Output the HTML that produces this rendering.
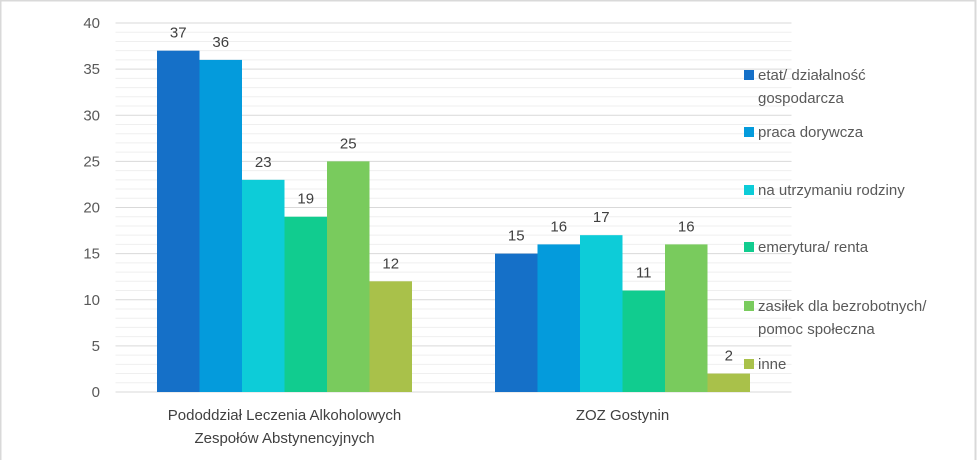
<!DOCTYPE html>
<html><head><meta charset="utf-8"><style>
body{margin:0;background:#fff}
svg{display:block;font-family:"Liberation Sans",sans-serif}
</style></head><body>
<svg width="979" height="460">
<rect x="0.5" y="0.5" width="975" height="470" fill="#fff" stroke="#d9d9d9" stroke-width="2"/>
<g id="grid"></g><g id="yaxis"></g><g id="bars"></g><g id="labels"></g><g id="xaxis"></g><g id="legend"></g>
</svg>
<script>
const categories=[["Pododdział Leczenia Alkoholowych","Zespołów Abstynencyjnych"],["ZOZ Gostynin"]];
const seriesNames=[["etat/ działalność","gospodarcza"],["praca dorywcza"],["na utrzymaniu rodziny"],["emerytura/ renta"],["zasiłek dla bezrobotnych/","pomoc społeczna"],["inne"]];
const s1=[37,15];
const s2=[36,16];
const s3=[23,17];
const s4=[19,11];
const s5=[25,16];
const s6=[12,2];
const yTicks=[0,5,10,15,20,25,30,35,40];
const series=[s1,s2,s3,s4,s5,s6];
const colors=["#1570c8","#049bdc","#0dccd8","#11cc8f","#79cb5d","#a9c14a"];
const NS="http://www.w3.org/2000/svg";
const x0=115.5,x1=791.5,yb=392,yt=23,ymax=40;
const y=v=>yb-(v/ymax)*(yb-yt);
const cw=(x1-x0)/categories.length, bw=42.5;
function mk(t,a,p){const e=document.createElementNS(NS,t);for(const k in a)e.setAttribute(k,a[k]);p.appendChild(e);return e;}
const grid=document.getElementById('grid');
for(let v=1;v<=ymax;v++){
 const l=mk('line',{x1:x0,x2:x1,y1:y(v),y2:y(v),stroke:v%5?'#efefef':'#d9d9d9','stroke-width':1},grid);
 
 
}
const ya=document.getElementById('yaxis');
yTicks.forEach(v=>{const t=mk('text',{x:100,y:y(v)+5,'text-anchor':'end','font-size':15,fill:'#595959'},ya);t.textContent=v;
 
 });
const ax=mk('line',{x1:x0,x2:x1,y1:yb,y2:yb,stroke:'#d9d9d9'},ya);


const bars=document.getElementById('bars'),lab=document.getElementById('labels'),xa=document.getElementById('xaxis');
categories.forEach((c,ci)=>{
 const cx=x0+cw*(ci+0.5), start=cx-bw*series.length/2;
 series.forEach((s,si)=>{
  const v=s[ci],bx=start+si*bw;
  const r=mk('rect',{x:bx,y:y(v),width:bw,height:yb-y(v),fill:colors[si]},bars);
  
  
  const t=mk('text',{x:bx+bw/2,y:y(v)-13,'text-anchor':'middle','font-size':15,fill:'#404040'},lab);t.textContent=v;
  
  
 });
 c.forEach((line,li)=>{const t=mk('text',{x:cx,y:420+li*23,'text-anchor':'middle','font-size':15,fill:'#404040'},xa);t.textContent=line;
  
  });
});
const lg=document.getElementById('legend');
const ly=[75,132,190,247,306,364];
seriesNames.forEach((n,i)=>{
 const g=mk('g',{},lg);
 
 
 mk('rect',{x:744,y:ly[i]-5,width:10,height:10,fill:colors[i]},g);
 n.forEach((line,li)=>{const t=mk('text',{x:758,y:ly[i]+5+li*23,'font-size':15,fill:'#595959'},g);t.textContent=line;});
});
</script>
</body></html>
